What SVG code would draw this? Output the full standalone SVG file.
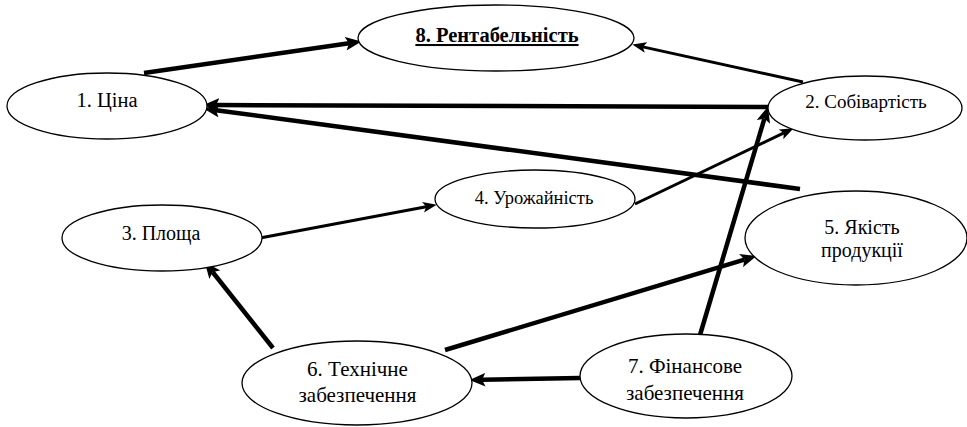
<svg xmlns="http://www.w3.org/2000/svg" width="967" height="427" viewBox="0 0 967 427">
<style>
.node ellipse{fill:#fff;stroke:#000;stroke-width:1.3}
.node text{font-family:'Liberation Serif','Times New Roman',serif;fill:#000;text-anchor:middle}
.thick{stroke:#000;stroke-width:4.5;fill:none;marker-end:url(#ah)}
.med{stroke:#000;stroke-width:3;fill:none;marker-end:url(#am)}
</style>
<defs>
<marker id="ah" markerUnits="userSpaceOnUse" markerWidth="16" markerHeight="14" viewBox="0 0 14 12" refX="3" refY="6" orient="auto">
<path d="M0,0 L14,6 L0,12 L3,6 z" fill="#000"/>
</marker>
<marker id="am" markerUnits="userSpaceOnUse" markerWidth="14" markerHeight="12" viewBox="0 0 13 10" refX="3" refY="5" orient="auto">
<path d="M0,0 L13,5 L0,10 L3,5 z" fill="#000"/>
</marker>
</defs>
<g id="connectors">
<line class="thick" x1="144" y1="73" x2="349" y2="43.3"/>
<line class="med" x1="803" y1="82" x2="642.8" y2="46.9"/>
<line class="thick" x1="768" y1="107" x2="216" y2="105"/>
<line class="thick" x1="800" y1="189" x2="216" y2="110.2"/>
<line class="med" x1="260" y1="238" x2="426.2" y2="206.7"/>
<line class="med" x1="635" y1="204" x2="783.9" y2="132.9"/>
<line class="thick" x1="273" y1="348" x2="212.6" y2="272"/>
<line class="thick" x1="445" y1="350" x2="744.4" y2="259.6"/>
<line class="thick" x1="580" y1="378" x2="482" y2="379.8"/>
<line class="thick" x1="700" y1="335" x2="764.4" y2="118.6"/>
</g>
<g id="node8" class="node">
<ellipse cx="496" cy="38" rx="138" ry="33"/>
<text x="497" y="42" font-size="20.5" font-weight="bold" text-decoration="underline">8. Рентабельність</text>
</g>
<g id="node1" class="node">
<ellipse cx="107" cy="106" rx="100" ry="33"/>
<text x="107" y="107" font-size="20.5">1. Ціна</text>
</g>
<g id="node2" class="node">
<ellipse cx="865" cy="108" rx="97" ry="32"/>
<text x="866" y="108" font-size="19">2. Собівартість</text>
</g>
<g id="node3" class="node">
<ellipse cx="162" cy="238" rx="100" ry="33"/>
<text x="161" y="240" font-size="20">3. Площа</text>
</g>
<g id="node4" class="node">
<ellipse cx="535" cy="199" rx="100" ry="29"/>
<text x="534" y="204" font-size="18.5">4. Урожайність</text>
</g>
<g id="node5" class="node">
<ellipse cx="856" cy="238" rx="111" ry="47"/>
<text x="862" y="234" font-size="20">5. Якість</text>
<text x="862" y="257" font-size="20">продукції</text>
</g>
<g id="node6" class="node">
<ellipse cx="357" cy="383" rx="115" ry="42"/>
<text x="357.5" y="376" font-size="21">6. Технічне</text>
<text x="357.5" y="402" font-size="21">забезпечення</text>
</g>
<g id="node7" class="node">
<ellipse cx="686" cy="376" rx="106" ry="42"/>
<text x="685" y="373" font-size="21">7. Фінансове</text>
<text x="685" y="400" font-size="21">забезпечення</text>
</g>
</svg>
